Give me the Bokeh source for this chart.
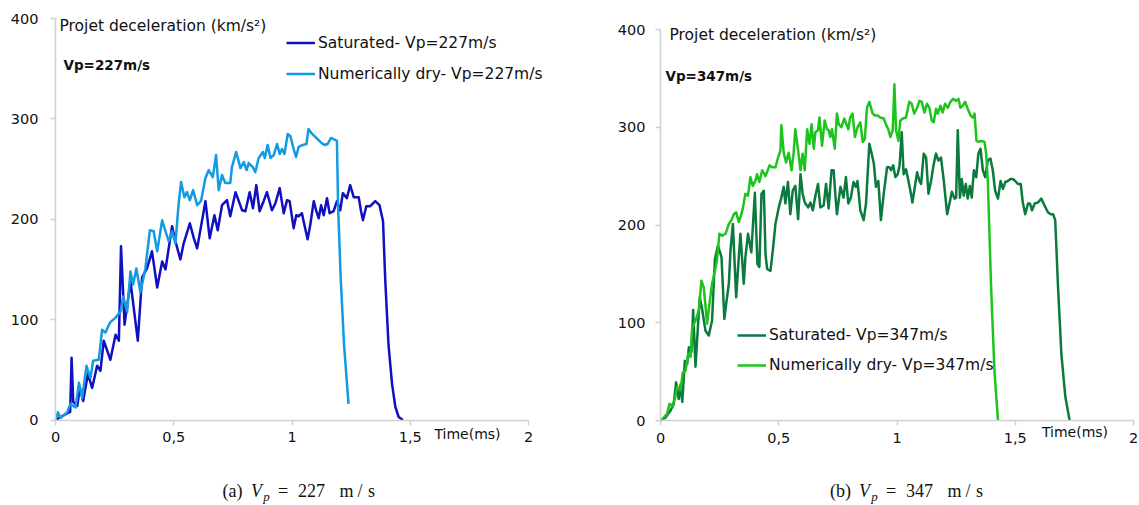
from bokeh.plotting import figure
from bokeh.layouts import row
from bokeh.models import FixedTicker, Label, Legend, LegendItem, LinearAxis, Range1d
from bokeh.embed import file_html
from bokeh.resources import INLINE

# ---------------- data ----------------
x_ticks = [0, 0.5, 1, 1.5, 2]
x_tick_labels = ["0", "0,5", "1", "1,5", "2"]
y_ticks = [0, 100, 200, 300, 400]

sat227_t = [0, 0.056, 0.062, 0.068, 0.075, 0.092, 0.103, 0.117, 0.137, 0.155, 0.176, 0.19, 0.204,
            0.232, 0.254, 0.268, 0.277, 0.292, 0.317, 0.348, 0.366, 0.387, 0.408, 0.430, 0.451,
            0.465, 0.493, 0.507, 0.528, 0.542, 0.568, 0.585, 0.599, 0.634, 0.652, 0.672, 0.686,
            0.704, 0.725, 0.739, 0.761, 0.775, 0.789, 0.803, 0.821, 0.835, 0.849, 0.863, 0.880,
            0.894, 0.915, 0.930, 0.948, 0.965, 0.979, 0.990, 1.007, 1.018, 1.028, 1.042, 1.049,
            1.066, 1.077, 1.092, 1.103, 1.113, 1.123, 1.134, 1.148, 1.159, 1.176, 1.190, 1.204,
            1.215, 1.232, 1.246, 1.261, 1.282, 1.292, 1.300, 1.314, 1.331, 1.352, 1.370, 1.385,
            1.394, 1.408, 1.423, 1.437, 1.451, 1.469]
sat227_a = [0, 7.6, 8, 62, 18, 14, 32, 19, 46, 32, 54, 49, 79,
            60, 85, 79, 173, 95, 138, 79, 142, 151, 168, 132, 158,
            150, 193, 178, 160, 176, 196, 181, 171, 218, 181, 204, 189,
            214, 219, 203, 227, 218, 209, 208, 227, 211, 234, 208, 218,
            227, 209, 216, 231, 206, 219, 218, 191, 204, 203, 206, 198,
            180, 194, 218, 208, 201, 214, 204, 221, 206, 208, 218, 209,
            226, 221, 234, 222, 222, 208, 199, 213, 213, 218, 214, 198,
            141, 75, 36, 13, 3, 0]

dry227_t = [0, 0.01, 0.021, 0.049, 0.063, 0.085, 0.099, 0.113, 0.131, 0.148, 0.159, 0.183, 0.197,
            0.211, 0.23, 0.254, 0.275, 0.286, 0.303, 0.317, 0.328, 0.342, 0.359, 0.38, 0.399,
            0.415, 0.43, 0.451, 0.465, 0.479, 0.493, 0.507, 0.521, 0.531, 0.545, 0.556, 0.568,
            0.582, 0.599, 0.615, 0.634, 0.648, 0.665, 0.679, 0.690, 0.704, 0.718, 0.739, 0.746,
            0.764, 0.782, 0.796, 0.808, 0.817, 0.834, 0.845, 0.859, 0.877, 0.885, 0.897, 0.909,
            0.923, 0.937, 0.948, 0.958, 0.968, 0.982, 0.993, 1.007, 1.017, 1.028, 1.046, 1.061,
            1.070, 1.085, 1.103, 1.12, 1.137, 1.151, 1.165, 1.190, 1.195, 1.206, 1.220, 1.239]
dry227_a = [0, 7.6, 2, 7.6, 16, 12.5, 37, 22, 54, 42, 59, 60, 90,
            87, 97, 102, 108, 123, 108, 148, 135, 151, 127, 151, 189,
            188, 168, 199, 188, 178, 188, 176, 216, 237, 222, 227, 219,
            229, 214, 218, 241, 249, 242, 264, 229, 244, 236, 236, 252,
            267, 251, 257, 249, 256, 252, 247, 261, 267, 261, 274, 261,
            264, 275, 265, 270, 265, 285, 283, 270, 262, 272, 274, 275,
            290, 285, 281, 277, 274, 275, 281, 278, 212, 141, 75, 16]

sat347_t = [0, 0.021, 0.042, 0.056, 0.066, 0.077, 0.085, 0.092, 0.103, 0.113, 0.120, 0.131, 0.138,
            0.148, 0.159, 0.166, 0.176, 0.190, 0.204, 0.218, 0.230, 0.243, 0.258, 0.270, 0.277,
            0.289, 0.296, 0.306, 0.320, 0.331, 0.338, 0.352, 0.359, 0.370, 0.384, 0.399, 0.410,
            0.418, 0.427, 0.437, 0.444, 0.451, 0.465, 0.475, 0.486, 0.500, 0.511, 0.521, 0.528,
            0.539, 0.549, 0.559, 0.570, 0.582, 0.592, 0.601, 0.610, 0.624, 0.634, 0.644, 0.655,
            0.666, 0.676, 0.690, 0.700, 0.711, 0.723, 0.732, 0.739, 0.746, 0.761, 0.774, 0.784,
            0.794, 0.805, 0.816, 0.826, 0.833, 0.845, 0.859, 0.869, 0.883, 0.893, 0.902, 0.911,
            0.921, 0.932, 0.944, 0.958, 0.968, 0.975, 0.984, 0.993, 1.003, 1.011, 1.020, 1.028,
            1.038, 1.045, 1.059, 1.065, 1.073, 1.085, 1.095, 1.102, 1.113, 1.123, 1.133, 1.144,
            1.155, 1.165, 1.175, 1.186, 1.198, 1.212, 1.222, 1.232, 1.243, 1.250, 1.257, 1.266,
            1.274, 1.282, 1.291, 1.299, 1.308, 1.316, 1.325, 1.335, 1.344, 1.353, 1.363, 1.373,
            1.384, 1.395, 1.405, 1.415, 1.427, 1.438, 1.448, 1.458, 1.469, 1.480, 1.490, 1.500,
            1.511, 1.523, 1.532, 1.542, 1.554, 1.562, 1.571, 1.582, 1.596, 1.610, 1.624, 1.638,
            1.650, 1.660, 1.669, 1.681, 1.695, 1.712, 1.730]
sat347_a = [0, 3, 10, 17, 39, 22, 37, 19, 61, 58, 75, 70, 113,
            55, 99, 126, 114, 92, 87, 102, 165, 179, 167, 104, 118,
            140, 174, 201, 126, 167, 191, 140, 167, 191, 172, 233, 160,
            157, 232, 235, 170, 155, 153, 174, 201, 218, 228, 239, 222,
            244, 211, 235, 240, 206, 252, 232, 223, 218, 223, 215, 230,
            242, 218, 220, 242, 217, 256, 256, 232, 211, 239, 228, 249,
            222, 228, 244, 239, 245, 215, 205, 222, 283, 273, 263, 239,
            245, 205, 232, 259, 259, 256, 261, 249, 252, 261, 295, 252,
            257, 249, 232, 223, 235, 254, 245, 242, 273, 269, 232, 245,
            262, 273, 266, 269, 245, 211, 222, 234, 227, 228, 297, 228,
            247, 230, 242, 227, 240, 228, 256, 249, 273, 278, 256, 249,
            266, 268, 256, 235, 227, 245, 237, 244, 245, 247, 247, 245,
            242, 242, 223, 211, 222, 222, 215, 222, 223, 227, 220, 213,
            211, 211, 205, 136, 68, 24, 0]

dry347_t = [0, 0.014, 0.028, 0.038, 0.049, 0.061, 0.070, 0.085, 0.094, 0.106, 0.117, 0.127, 0.134,
            0.148, 0.162, 0.173, 0.183, 0.197, 0.207, 0.218, 0.230, 0.239, 0.249, 0.261, 0.275,
            0.289, 0.300, 0.310, 0.320, 0.331, 0.342, 0.348, 0.359, 0.370, 0.380, 0.390, 0.401,
            0.408, 0.418, 0.430, 0.444, 0.461, 0.472, 0.486, 0.497, 0.507, 0.511, 0.521, 0.531,
            0.542, 0.554, 0.563, 0.570, 0.582, 0.592, 0.601, 0.610, 0.620, 0.630, 0.639, 0.648,
            0.655, 0.666, 0.672, 0.683, 0.694, 0.704, 0.711, 0.718, 0.725, 0.737, 0.746, 0.754,
            0.765, 0.777, 0.794, 0.802, 0.812, 0.822, 0.833, 0.845, 0.855, 0.864, 0.873, 0.883,
            0.897, 0.907, 0.918, 0.929, 0.944, 0.953, 0.963, 0.972, 0.982, 0.989, 0.996, 1.006,
            1.014, 1.025, 1.038, 1.052, 1.062, 1.073, 1.085, 1.095, 1.105, 1.116, 1.127, 1.137,
            1.147, 1.155, 1.165, 1.172, 1.184, 1.193, 1.203, 1.215, 1.226, 1.237, 1.250, 1.260,
            1.268, 1.278, 1.288, 1.299, 1.311, 1.321, 1.328, 1.336, 1.345, 1.356, 1.370, 1.377,
            1.384, 1.398, 1.412, 1.427]
dry347_a = [0, 3, 7, 17, 15, 22, 34, 31, 49, 51, 68, 65, 95,
            102, 113, 143, 136, 99, 119, 140, 153, 164, 191, 189, 191,
            201, 205, 211, 213, 203, 211, 217, 232, 230, 249, 240, 245,
            252, 244, 256, 250, 261, 259, 259, 269, 276, 302, 274, 264,
            274, 256, 274, 298, 276, 256, 273, 256, 298, 283, 303, 278,
            295, 297, 310, 281, 307, 298, 297, 290, 298, 278, 314, 303,
            300, 309, 298, 310, 314, 290, 300, 305, 285, 288, 320, 326,
            314, 312, 312, 310, 309, 303, 298, 290, 297, 344, 297, 286,
            307, 309, 310, 326, 324, 314, 320, 327, 326, 315, 324, 320,
            307, 305, 319, 314, 322, 315, 324, 320, 326, 329, 327, 329,
            320, 322, 326, 319, 312, 310, 314, 286, 285, 286, 285, 273,
            245, 136, 51, 0]

# ---------------- styling ----------------
SANS = "DejaVu Sans"
SERIF = "Liberation Serif"
AXIS_GRAY = "#d0d0d0"
TXT = "#111111"
HEIGHT = 505


def make_fig(width, left, right, top, bottom, y_standoff):
    """left/right/top/bottom: pixel position of the data box (x 0..2, y 0..400) in the canvas."""
    xs = (right - left) / 2.0
    ys = (bottom - top) / 400.0
    p = figure(width=width, height=HEIGHT,
               x_range=Range1d(-left / xs, (width - left) / xs),
               y_range=Range1d(-(HEIGHT - bottom) / ys, 400 + top / ys),
               output_backend="svg", toolbar_location=None,
               x_axis_location=None, y_axis_location=None,
               min_border=0, min_border_left=0, min_border_right=0,
               min_border_top=0, min_border_bottom=0)
    p.outline_line_color = None
    p.grid.visible = False
    p.background_fill_color = "white"
    p.border_fill_color = "white"
    xa = LinearAxis(fixed_location=0, bounds=(0, 2), ticker=FixedTicker(ticks=x_ticks))
    xa.major_label_overrides = {t: l for t, l in zip(x_ticks, x_tick_labels)}
    ya = LinearAxis(fixed_location=0, bounds=(0, 400), ticker=FixedTicker(ticks=y_ticks))
    for ax in (xa, ya):
        ax.axis_line_color = AXIS_GRAY
        ax.axis_line_width = 1.5
        ax.major_tick_line_color = AXIS_GRAY
        ax.major_tick_line_width = 1.5
        ax.major_tick_out = 5
        ax.major_tick_in = 0
        ax.minor_tick_line_color = None
        ax.major_label_text_font = SANS
        ax.major_label_text_font_size = "14.5px"
        ax.major_label_text_color = TXT
    xa.major_label_standoff = 7
    ya.major_label_standoff = y_standoff
    p.add_layout(xa, "below")
    p.add_layout(ya, "left")
    return p, xs, ys


def add_label(p, xs, ys, dx, dy, text, **kw):
    # dx, dy: pixel offsets from the data box's top-left corner (dy downwards)
    p.add_layout(Label(x=dx / xs, y=400 - dy / ys, text=text, **kw))


def decorate(p, xs, ys, title_pos, vp_pos, vp_text, time_pos, cap_dx, cap_dy, tag, speed):
    add_label(p, xs, ys, title_pos[0], title_pos[1], "Projet deceleration (km/s\u00b2)",
              text_font=SANS, text_font_size="15.5px", text_color=TXT,
              text_baseline="middle", text_align="left")
    add_label(p, xs, ys, vp_pos[0], vp_pos[1], vp_text,
              text_font=SANS, text_font_size="13.5px", text_font_style="bold",
              text_color=TXT, text_baseline="middle", text_align="left")
    add_label(p, xs, ys, time_pos[0], time_pos[1], "Time(ms)",
              text_font=SANS, text_font_size="14px", text_color=TXT,
              text_baseline="middle", text_align="center")
    pieces = [(0, 0, "(" + tag + ")", "normal", "18px"),
              (24, 0, "V", "italic", "18px"),
              (34, 5.5, "p", "italic", "13px"),
              (50.5, 0, "=", "normal", "18px"),
              (79, 0, speed, "normal", "18px"),
              (114, 0, "m", "normal", "18px"),
              (127.5, 0, "/", "normal", "18px"),
              (139, 0, "s", "normal", "18px")]
    for ddx, ddy, t, style, size in pieces:
        add_label(p, xs, ys, cap_dx + ddx, cap_dy + ddy, t,
                  text_font=SERIF, text_font_size=size, text_font_style=style,
                  text_color=TXT, text_baseline="middle", text_align="center")


def add_legend(p, renderers, labels, loc, pitch):
    items = [LegendItem(label=l, renderers=[r]) for l, r in zip(labels, renderers)]
    lg = Legend(items=items, location=loc, orientation="vertical",
                padding=0, margin=0, spacing=0, label_standoff=3,
                glyph_width=29, glyph_height=pitch, label_height=pitch,
                label_text_font=SANS, label_text_font_size="15.5px",
                label_text_color=TXT, border_line_color=None,
                background_fill_alpha=0)
    p.add_layout(lg)


# ---------------- left panel ----------------
p1, xs1, ys1 = make_fig(580, 55, 528, 18, 419.5, 12)
r1 = p1.line(sat227_t, sat227_a, line_color="#1010c0", line_width=2.5, line_join="round")
r2 = p1.line(dry227_t, dry227_a, line_color="#129ae2", line_width=2.5, line_join="round")
add_legend(p1, [r1, r2], ["Saturated- Vp=227m/s", "Numerically dry- Vp=227m/s"], (286, 416), 31)
decorate(p1, xs1, ys1, (4, 7), (8, 46.7), "Vp=227m/s", (412, 415), 177, 472, "a", "227")

# ---------------- right panel ----------------
p2, xs2, ys2 = make_fig(559, 80, 553, 29, 420, 10)
r3 = p2.line(sat347_t, sat347_a, line_color="#0a7a3e", line_width=2.5, line_join="round")
r4 = p2.line(dry347_t, dry347_a, line_color="#1ec41e", line_width=2.5, line_join="round")
add_legend(p2, [r3, r4], ["Saturated- Vp=347m/s", "Numerically dry- Vp=347m/s"], (157, 125), 30)
decorate(p2, xs2, ys2, (9, 5.5), (5, 46), "Vp=347m/s", (414.5, 402), 180, 461, "b", "347")

layout = row(p1, p2)
open("out.html", "w").write(file_html(layout, INLINE))
